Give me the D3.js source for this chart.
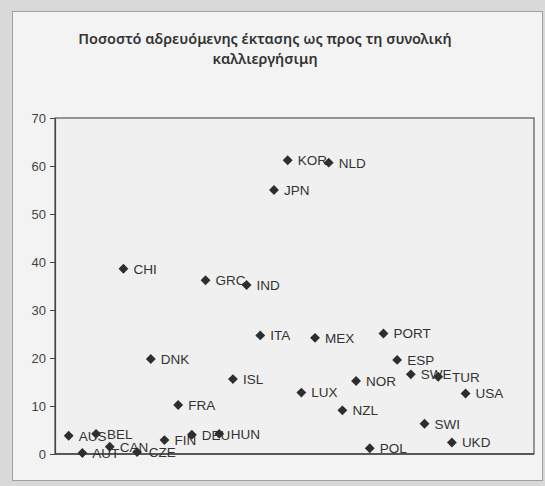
<!DOCTYPE html>
<html>
<head>
<meta charset="utf-8">
<script src="https://cdn.jsdelivr.net/npm/d3@7"></script>
<style>
  html, body { margin: 0; padding: 0; background: #d6d6d6; }
  svg { display: block; }
</style>
</head>
<body>
<script>
// Country codes, in the order they are plotted along the x axis
const countries = ["AUS","AUT","BEL","CAN","CHI","CZE","DNK","FIN","FRA","DEU",
                   "GRC","HUN","ISL","IND","ITA","JPN","KOR","LUX","MEX","NLD",
                   "NZL","NOR","POL","PORT","ESP","SWE","SWI","TUR","UKD","USA"];
// Irrigated area as a percentage of total arable land
const irrigatedShare = [3.8, 0.2, 4.2, 1.5, 38.6, 0.4, 19.8, 2.9, 10.2, 4.0,
                        36.2, 4.2, 15.6, 35.2, 24.7, 55.0, 61.2, 12.8, 24.2, 60.7,
                        9.1, 15.2, 1.2, 25.1, 19.6, 16.6, 6.3, 16.1, 2.4, 12.6];
const yTicks = [0, 10, 20, 30, 40, 50, 60, 70];
const titleLines = ["Ποσοστό αδρευόμενης έκτασης ως προς τη συνολική", "καλλιεργήσιμη"];

const W = 545, H = 486;
const plot = { left: 55, top: 118, right: 534, bottom: 454 };

const svg = d3.select("body").append("svg").attr("width", W).attr("height", H);

// page strip and chart area
svg.append("rect").attr("x", 0).attr("y", 0).attr("width", W).attr("height", H).attr("fill", "#d9d9d9");
svg.append("rect").attr("x", 12.5).attr("y", 11.5).attr("width", 530).attr("height", 469)
   .attr("fill", "#f3f3f3").attr("stroke", "#a0a0a0").attr("stroke-width", 1);

// title
svg.append("text")
   .attr("x", 265).attr("y", 44)
   .attr("text-anchor", "middle")
   .attr("font-family", "'Noto Sans', 'DejaVu Sans', sans-serif")
   .attr("font-weight", 600)
   .attr("font-size", 14.5)
   .attr("fill", "#333")
   .selectAll("tspan").data(titleLines).join("tspan")
   .attr("x", 265).attr("dy", (d, i) => i === 0 ? 0 : 20)
   .text(d => d);

const x = d3.scaleLinear().domain([0, 35]).range([plot.left, plot.right]);
const y = d3.scaleLinear().domain([0, 70]).range([plot.bottom, plot.top]);

// plot area
svg.append("rect")
   .attr("x", plot.left).attr("y", plot.top)
   .attr("width", plot.right - plot.left).attr("height", plot.bottom - plot.top)
   .attr("fill", "#f0f0f0").attr("stroke", "#555").attr("stroke-width", 1.2);

// y axis
const yAxis = d3.axisLeft(y).tickValues(yTicks).tickSize(5).tickPadding(4).tickSizeOuter(0);
const ya = svg.append("g").attr("transform", `translate(${plot.left},0)`).call(yAxis);
ya.select(".domain").attr("stroke", "#444").attr("stroke-width", 1.2);
ya.selectAll(".tick line").attr("stroke", "#444");
ya.selectAll(".tick text")
  .attr("font-family", "'Liberation Sans', Arial, sans-serif")
  .attr("font-size", 13)
  .attr("fill", "#444");

// x axis line along the bottom
svg.append("line")
   .attr("x1", plot.left).attr("x2", plot.right)
   .attr("y1", y(0)).attr("y2", y(0))
   .attr("stroke", "#444").attr("stroke-width", 1.4);

const data = countries.map((c, i) => ({ name: c, idx: i + 1, value: irrigatedShare[i] }));

// data labels (drawn before the markers so markers sit on top)
const labels = svg.append("g").selectAll("text").data(data).join("text")
   .attr("x", d => x(d.idx) + 10)
   .attr("y", d => y(d.value))
   .attr("dy", "0.36em")
   .attr("font-family", "'Liberation Sans', Arial, sans-serif")
   .attr("font-size", 13.5)
   .attr("fill", "#333")
   .text(d => d.name);

// nudge a label to the right when it runs into the previous one
const placed = [];
labels.each(function () {
  const el = d3.select(this);
  let b = this.getBBox();
  placed.forEach(p => {
    const vOverlap = b.y < p.y + p.height - 3 && p.y < b.y + b.height - 3;
    if (vOverlap && b.x < p.x + p.width && p.x < b.x + b.width) {
      const shift = p.x + p.width - b.x + 0.5;
      el.attr("x", +el.attr("x") + shift);
      b = this.getBBox();
    }
  });
  placed.push(b);
});

// diamond markers
const diamond = d3.symbol().type(d3.symbolDiamond2).size(62);
svg.append("g").selectAll("path").data(data).join("path")
   .attr("transform", d => `translate(${x(d.idx)},${y(d.value)})`)
   .attr("d", diamond)
   .attr("fill", "#2e2e2e");
</script>
</body>
</html>
